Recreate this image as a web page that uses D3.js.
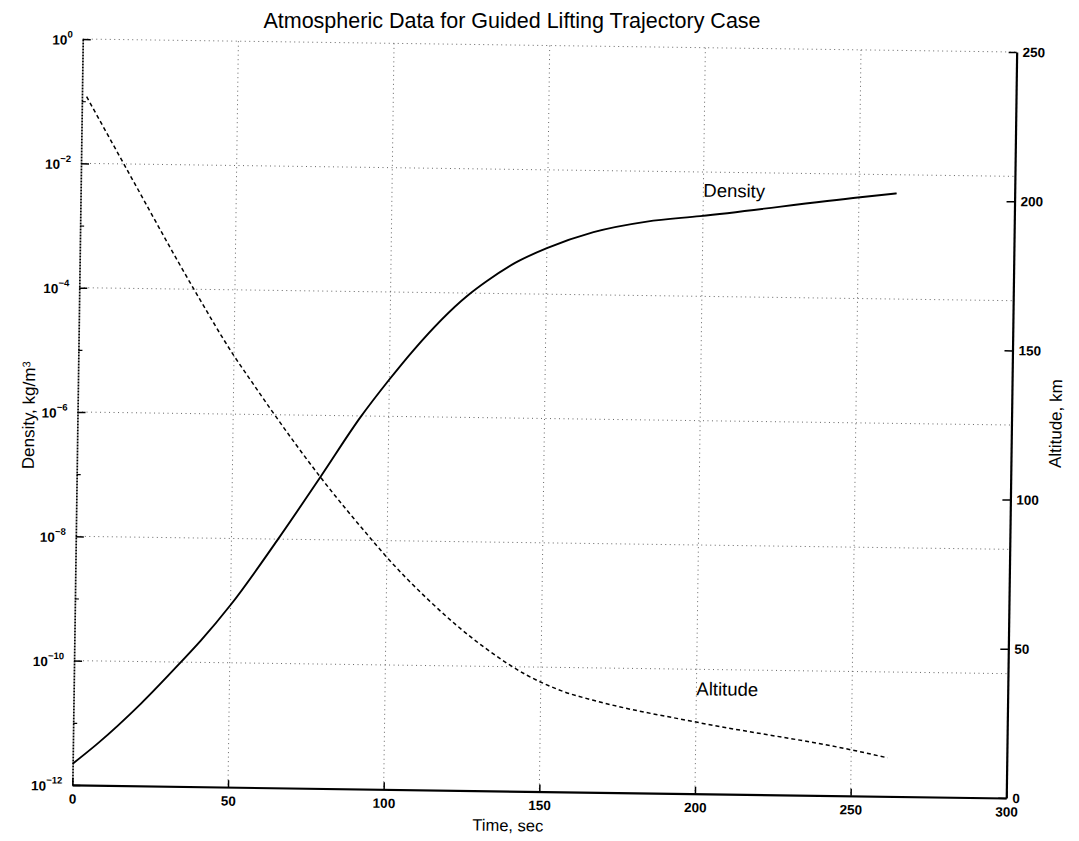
<!DOCTYPE html>
<html>
<head>
<meta charset="utf-8">
<script src="https://cdn.jsdelivr.net/npm/d3@7"></script>
<style>
    body { margin: 0; background: #fff; }
    text { font-family: "Liberation Sans", Arial, Helvetica, sans-serif; fill: #000; }
    .tick text { font-weight: bold; font-size: 13.5px; }
</style>
</head>
<body>
<div id="chart"></div>
<script>

// Density curve (solid), kg/m^3 vs time, sec
const densityTime  = [0, 7.9, 21.6, 34.3, 40.6, 50.0, 64.7, 78.3, 90.9, 99.8, 107.6, 124.5, 130.9, 140.0, 150.0, 164.9, 182.0, 199.1, 250.4, 262.1];
const densityValue = [2.19e-12, 4.68e-12, 2.09e-11, 1.0e-10, 2.24e-10, 8.5e-10, 9.55e-9, 1.02e-7, 9.55e-7, 3.80e-6,
                      1.17e-5, 8.9e-5, 1.58e-4, 3.16e-4, 5.5e-4, 1.02e-3, 1.55e-3, 1.95e-3, 4.27e-3, 5.01e-3];

// Altitude curve (dashed), km vs time, sec
const altitudeTime  = [1.5, 15.2, 36.7, 49.9, 55.9, 61.9, 78.3, 95.7, 99.0, 113.2, 131.6, 145.7, 156.5, 169.4, 200.5, 251.0, 261.7];
const altitudeValue = [230.7, 205.7, 166.9, 144.7, 135.8, 127.0, 104.3, 82.8, 78.9, 64.0, 48.1, 38.8, 33.9, 30.2, 23.9, 15.2, 12.9];

// ticks
const timeTicks = [0, 50, 100, 150, 200, 250, 300];
const densityExponents = [0, -2, -4, -6, -8, -10, -12];
const densityMinorExponents = [-1, -3, -5, -7, -9, -11];
const altitudeTicks = [0, 50, 100, 150, 200, 250];

// curve labels [text, time, value]
const densityNote = ["Density", 200, 4e-3];
const altitudeNote = ["Altitude", 200, 33];


class AtmosphereChart {

    constructor(_parentElement) {
        this.parentElement = _parentElement;
        this.initVis();
    }

    initVis() {
        let vis = this;

        vis.margin = {top: 45.5, right: 67.5, bottom: 49.5, left: 77.5};
        vis.width = 1079 - vis.margin.left - vis.margin.right;
        vis.height = 841 - vis.margin.top - vis.margin.bottom;

        vis.root = d3.select("#" + vis.parentElement).append("svg")
            .attr("width", 1079)
            .attr("height", 841);

        // title stays level, the scanned plot is tilted a little
        vis.root.append("text")
            .attr("x", 512)
            .attr("y", 28)
            .attr("text-anchor", "middle")
            .style("font-size", "21.5px")
            .text("Atmospheric Data for Guided Lifting Trajectory Case");

        vis.svg = vis.root.append("g")
            .attr("transform", "rotate(0.8,544.5,418.5) translate(" + vis.margin.left + "," + vis.margin.top + ")");

        // scales
        vis.x = d3.scaleLinear().domain([0, 300]).range([0, vis.width]);
        vis.yDensity = d3.scaleLog().domain([1e-12, 1]).range([vis.height, 0]);
        vis.yAlt = d3.scaleLinear().domain([0, 250]).range([vis.height, 0]);

        // grid
        vis.grid = vis.svg.append("g").attr("class", "grid");
        vis.grid.selectAll(".hgrid")
            .data(densityExponents.filter(e => e > -12))
            .enter().append("line")
            .attr("x1", 0).attr("x2", vis.width)
            .attr("y1", e => vis.yDensity(Math.pow(10, e)))
            .attr("y2", e => vis.yDensity(Math.pow(10, e)))
            .attr("stroke", "#555").attr("stroke-width", 0.9)
            .attr("stroke-dasharray", "1,3.5");
        vis.grid.selectAll(".vgrid")
            .data(timeTicks.filter(t => t > 0 && t < 300))
            .enter().append("line")
            .attr("x1", t => vis.x(t)).attr("x2", t => vis.x(t))
            .attr("y1", 0).attr("y2", vis.height)
            .attr("stroke", "#555").attr("stroke-width", 0.9)
            .attr("stroke-dasharray", "1,3.5");

        // left axis (log density)
        vis.leftAxis = d3.axisLeft(vis.yDensity)
            .tickValues(densityExponents.map(e => Math.pow(10, e)))
            .tickSizeInner(-8).tickSizeOuter(0).tickPadding(10)
            .tickFormat("");
        vis.leftG = vis.svg.append("g").call(vis.leftAxis);
        vis.leftG.select(".domain")
            .attr("stroke-width", 1.7).attr("stroke-dasharray", "2,1");
        vis.leftG.selectAll(".tick line").attr("stroke-width", 1.5);
        vis.leftG.selectAll(".tick text")
            .data(densityExponents)
            .attr("dy", "0.4em")
            .text("10")
            .append("tspan")
            .attr("dy", "-0.75em")
            .style("font-size", "9.5px")
            .text(e => e === 0 ? "0" : "\u2212" + Math.abs(e));

        vis.minorAxis = d3.axisLeft(vis.yDensity)
            .tickValues(densityMinorExponents.map(e => Math.pow(10, e)))
            .tickSizeInner(-4).tickSizeOuter(0).tickFormat("");
        vis.minorG = vis.svg.append("g").call(vis.minorAxis);
        vis.minorG.select(".domain").remove();
        vis.minorG.selectAll(".tick line").attr("stroke-width", 1.2);

        // right axis (altitude)
        vis.rightAxis = d3.axisRight(vis.yAlt)
            .tickValues(altitudeTicks)
            .tickSizeInner(-8).tickSizeOuter(0).tickPadding(6);
        vis.rightG = vis.svg.append("g")
            .attr("transform", "translate(" + vis.width + ",0)")
            .call(vis.rightAxis);
        vis.rightG.select(".domain").attr("stroke-width", 2.2);
        vis.rightG.selectAll(".tick line").attr("stroke-width", 1.5);

        // bottom axis (time)
        vis.bottomAxis = d3.axisBottom(vis.x)
            .tickValues(timeTicks)
            .tickSizeInner(-7).tickSizeOuter(0).tickPadding(9);
        vis.bottomG = vis.svg.append("g")
            .attr("transform", "translate(0," + vis.height + ")")
            .call(vis.bottomAxis);
        vis.bottomG.select(".domain").attr("stroke-width", 2.2);
        vis.bottomG.selectAll(".tick line").attr("stroke-width", 1.5);

        // axis titles
        vis.svg.append("text")
            .attr("x", 436).attr("y", vis.height + 40)
            .attr("text-anchor", "middle")
            .style("font-size", "16.5px")
            .text("Time, sec");

        let yl = vis.svg.append("text")
            .attr("transform", "translate(-43," + 377 + ") rotate(-90)")
            .attr("text-anchor", "middle")
            .style("font-size", "17px")
            .text("Density, kg/m");
        yl.append("tspan").attr("dy", "-0.45em").style("font-size", "11px").text("3");

        vis.svg.append("text")
            .attr("transform", "translate(" + (vis.width + 50) + "," + 371 + ") rotate(-90)")
            .attr("text-anchor", "middle")
            .style("font-size", "17px")
            .text("Altitude, km");

        vis.wrangleData();
    }

    wrangleData() {
        let vis = this;

        vis.densityData = densityTime.map((t, i) => ({t: t, v: densityValue[i]}));
        vis.altitudeData = altitudeTime.map((t, i) => ({t: t, v: altitudeValue[i]}));

        vis.updateVis();
    }

    updateVis() {
        let vis = this;

        let densityLine = d3.line()
            .x(d => vis.x(d.t))
            .y(d => vis.yDensity(d.v))
            .curve(d3.curveMonotoneX);

        let altitudeLine = d3.line()
            .x(d => vis.x(d.t))
            .y(d => vis.yAlt(d.v))
            .curve(d3.curveMonotoneX);

        vis.svg.append("path")
            .datum(vis.densityData)
            .attr("d", densityLine)
            .attr("fill", "none")
            .attr("stroke", "#000")
            .attr("stroke-width", 1.9);

        vis.svg.append("path")
            .datum(vis.altitudeData)
            .attr("d", altitudeLine)
            .attr("fill", "none")
            .attr("stroke", "#000")
            .attr("stroke-width", 1.5)
            .attr("stroke-dasharray", "4,3");

        vis.svg.append("text")
            .attr("x", vis.x(densityNote[1]))
            .attr("y", vis.yDensity(densityNote[2]))
            .style("font-size", "18.5px")
            .text(densityNote[0]);

        vis.svg.append("text")
            .attr("x", vis.x(altitudeNote[1]))
            .attr("y", vis.yAlt(altitudeNote[2]))
            .style("font-size", "18.5px")
            .text(altitudeNote[0]);
    }
}

new AtmosphereChart("chart");

</script>
</body>
</html>
